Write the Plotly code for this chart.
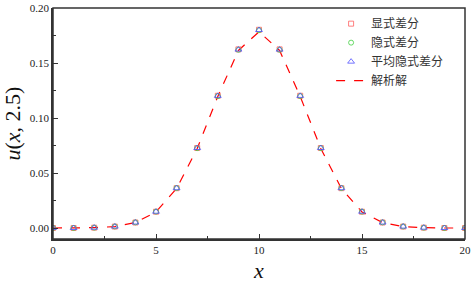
import plotly.graph_objects as go

x_vals = list(range(21))
explicit = [0.0000, 0.0000, 0.0003, 0.0013, 0.0050, 0.0148, 0.0362, 0.0727, 0.1202, 0.1624, 0.1802,
            0.1624, 0.1202, 0.0727, 0.0362, 0.0148, 0.0050, 0.0013, 0.0003, 0.0000, 0.0000]
implicit = [0.0000, 0.0000, 0.0003, 0.0014, 0.0051, 0.0149, 0.0363, 0.0726, 0.1199, 0.1620, 0.1798,
            0.1620, 0.1199, 0.0726, 0.0363, 0.0149, 0.0051, 0.0014, 0.0003, 0.0000, 0.0000]
cn = [0.0000, 0.0000, 0.0003, 0.0013, 0.0050, 0.0148, 0.0362, 0.0727, 0.1201, 0.1622, 0.1800,
      0.1622, 0.1201, 0.0727, 0.0362, 0.0148, 0.0050, 0.0013, 0.0003, 0.0000, 0.0000]
analytic = [0.0000, 0.0000, 0.0003, 0.0013, 0.0049, 0.0146, 0.0359, 0.0723, 0.1196, 0.1614, 0.1784,
            0.1614, 0.1196, 0.0723, 0.0359, 0.0146, 0.0049, 0.0013, 0.0003, 0.0000, 0.0000]

names = ["显式差分", "隐式差分", "平均隐式差分", "解析解"]

fig = go.Figure()
fig.add_trace(go.Scatter(x=x_vals, y=analytic, mode="lines", name=names[3],
                         line=dict(color="#ff0000", dash="dash", width=1.2), showlegend=False))
fig.add_trace(go.Scatter(x=x_vals, y=explicit, mode="markers", name=names[0],
                         marker=dict(symbol="square-open", size=5, color="#ff6060", line=dict(width=0.8))))
fig.add_trace(go.Scatter(x=x_vals, y=implicit, mode="markers", name=names[1],
                         marker=dict(symbol="circle-open", size=5, color="#40d040", line=dict(width=0.8))))
fig.add_trace(go.Scatter(x=x_vals, y=cn, mode="markers", name=names[2],
                         marker=dict(symbol="triangle-up-open", size=6, color="#5050ff", line=dict(width=0.8))))
fig.add_trace(go.Scatter(x=[None], y=[None], mode="lines", name=names[3],
                         line=dict(color="#ff0000", dash="dash", width=1.2)))

axis_common = dict(
    showline=True, linecolor="#333333", linewidth=1.5,
    ticks="inside", ticklen=5, tickwidth=1, tickcolor="#333333",
    showgrid=False, zeroline=False,
    tickfont=dict(family="Liberation Serif", size=11, color="#222222"),
)

fig.update_layout(
    width=472, height=284,
    margin=dict(l=53, r=7, t=8, b=45, autoexpand=False),
    paper_bgcolor="white", plot_bgcolor="white",
    xaxis=dict(range=[0, 20], tickvals=[0, 5, 10, 15, 20],
               minor=dict(ticks="inside", ticklen=3, tickcolor="#333333", dtick=2.5, tick0=0),
               title=dict(text="<i>x</i>", font=dict(family="Liberation Serif", size=22, color="#111111"), standoff=8),
               **axis_common),
    yaxis=dict(range=[-0.01, 0.20], tickvals=[0, 0.05, 0.10, 0.15, 0.20], tickformat=".2f",
               minor=dict(ticks="inside", ticklen=3, tickcolor="#333333", dtick=0.025, tick0=0),
               title=dict(text="<i>u</i>(<i>x</i>, 2.5)", font=dict(family="Liberation Serif", size=22, color="#111111"), standoff=9),
               **axis_common),
    legend=dict(x=0.675, y=0.995, xanchor="left", yanchor="top", bgcolor="rgba(0,0,0,0)",
                font=dict(family="Noto Sans CJK SC", size=12, color="#333333"),
                tracegroupgap=0),
    shapes=[dict(type="rect", xref="paper", yref="paper", x0=0, x1=1, y0=0, y1=1,
                 line=dict(color="#333333", width=1.5), fillcolor="rgba(0,0,0,0)", layer="above")],
)

fig.write_html("out.html", config={"displayModeBar": False},
               post_script="document.body.style.margin='0';document.body.style.overflow='hidden';")
